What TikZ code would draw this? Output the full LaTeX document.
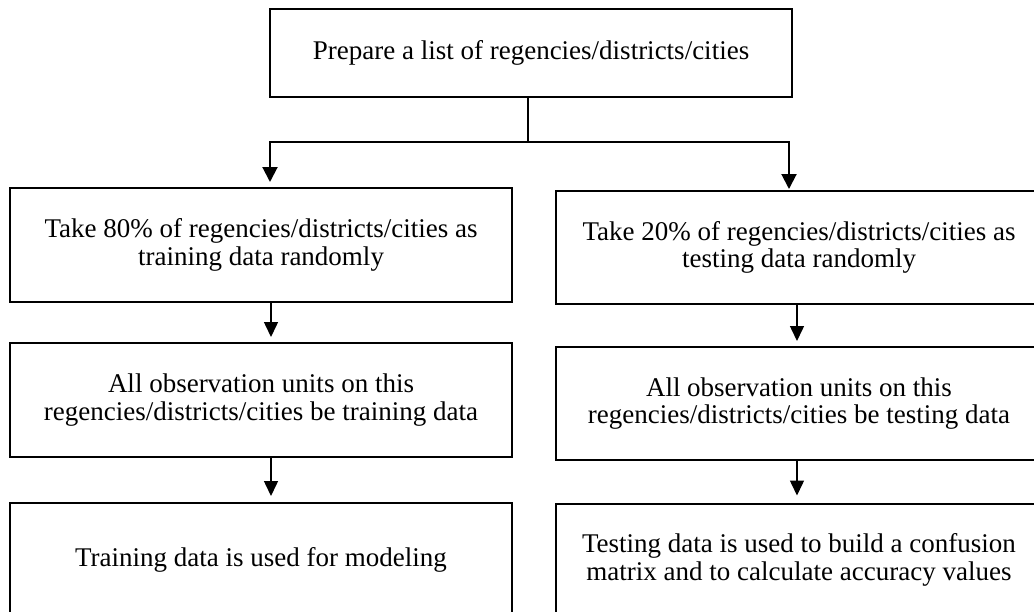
\documentclass[tikz,border=0pt]{standalone}
\usepackage{fontspec}
\setmainfont{Liberation Serif}
\usetikzlibrary{arrows.meta}

\begin{document}
\begin{tikzpicture}[x=1pt, y=-1pt,
  stepbox/.style={draw, line width=2pt, align=center, inner sep=0pt,
    font=\fontsize{27}{27.5}\selectfont},
  topbox/.style={stepbox, minimum width=522pt, minimum height=88pt},
  leftbox/.style={stepbox, minimum width=502pt, minimum height=114pt},
  rightbox/.style={stepbox, minimum width=486pt, minimum height=113pt},
  split/.style={line width=2pt, -{Triangle[length=15pt, width=15pt]}},
  flow/.style={line width=1.5pt, -{Triangle[length=15pt, width=14pt]}}
]
\useasboundingbox (0,0) rectangle (1034,611);
\clip (0,0) rectangle (1034,611);
\fill[white] (0,0) rectangle (1034,611);

% boxes
\node[topbox]   (top) at (531,53)    {Prepare a list of regencies/districts/cities};
\node[leftbox]  (L1)  at (261,245)   {Take 80\% of regencies/districts/cities as\\training data randomly};
\node[leftbox]  (L2)  at (261,400)   {All observation units on this\\regencies/districts/cities be training data};
\node[leftbox]  (L3)  at (261,560)   {Training data is used for modeling};
\node[rightbox] (R1)  at (799,247.5) {Take 20\% of regencies/districts/cities as\\testing data randomly};
\node[rightbox] (R2)  at (799,403.5) {All observation units on this\\regencies/districts/cities be testing data};
\node[rightbox] (R3)  at (799,560)   {Testing data is used to build a confusion\\matrix and to calculate accuracy values};

% arrow columns and the split point
\coordinate (j)   at (528,142);
\coordinate (lx)  at (270,0);
\coordinate (rx)  at (789,0);
\coordinate (lx2) at (271,0);
\coordinate (rx2) at (797,0);

% split from the first step into the two branches
\draw[line width=2pt] (top.south -| j) -- (j);
\draw[split, shorten >=5pt] (j) -| (L1.north -| lx);
\draw[split, shorten >=1pt] (j) -| (R1.north -| rx);

% training branch
\draw[flow, shorten >=5pt] (L1.south -| lx2) -- (L2.north -| lx2);
\draw[flow, shorten >=6pt] (L2.south -| lx2) -- (L3.north -| lx2);

% testing branch
\draw[flow, shorten >=5pt] (R1.south -| rx2) -- (R2.north -| rx2);
\draw[flow, shorten >=7pt] (R2.south -| rx2) -- (R3.north -| rx2);
\end{tikzpicture}
\end{document}
